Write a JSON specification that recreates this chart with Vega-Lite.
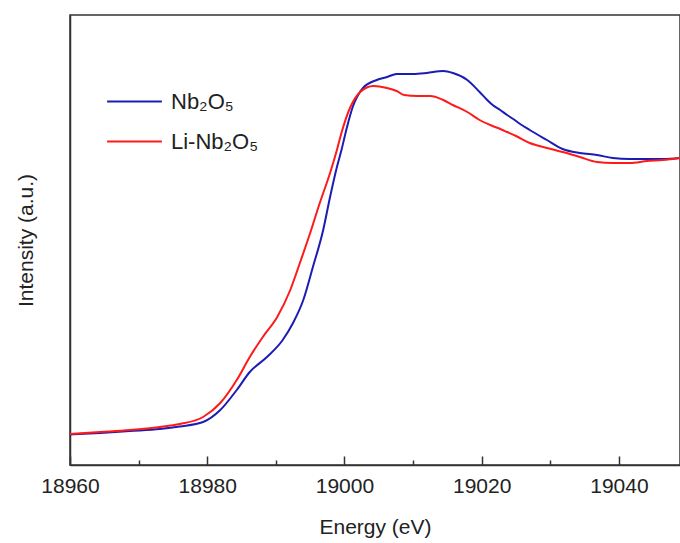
{
  "$schema": "https://vega.github.io/schema/vega-lite/v6.json",
  "width": 610,
  "height": 450,
  "autosize": "none",
  "padding": {"left": 70, "top": 15, "right": 0, "bottom": 78},
  "background": "white",
  "config": {
    "font": "Liberation Sans",
    "view": {"stroke": "#333", "strokeWidth": 1.5},
    "axis": {"grid": false, "domainColor": "#333", "domainWidth": 1.5, "tickColor": "#333", "tickWidth": 1.5, "labelColor": "#222", "titleColor": "#222", "labelFont": "Liberation Sans", "titleFont": "Liberation Sans", "titleFontWeight": "normal"}
  },
  "data": {
    "values": [
      {"E": 18960, "I": 30.5, "s": "Nb₂O₅"},
      {"E": 18964.4, "I": 32, "s": "Nb₂O₅"},
      {"E": 18968.7, "I": 34, "s": "Nb₂O₅"},
      {"E": 18973.1, "I": 36, "s": "Nb₂O₅"},
      {"E": 18976.0, "I": 38.5, "s": "Nb₂O₅"},
      {"E": 18979.4, "I": 43, "s": "Nb₂O₅"},
      {"E": 18981.9, "I": 55, "s": "Nb₂O₅"},
      {"E": 18984.3, "I": 75, "s": "Nb₂O₅"},
      {"E": 18986.2, "I": 93, "s": "Nb₂O₅"},
      {"E": 18988.7, "I": 108, "s": "Nb₂O₅"},
      {"E": 18991.0, "I": 125, "s": "Nb₂O₅"},
      {"E": 18992.5, "I": 142, "s": "Nb₂O₅"},
      {"E": 18994.0, "I": 165, "s": "Nb₂O₅"},
      {"E": 18995.4, "I": 198, "s": "Nb₂O₅"},
      {"E": 18996.9, "I": 235, "s": "Nb₂O₅"},
      {"E": 18997.9, "I": 268, "s": "Nb₂O₅"},
      {"E": 18998.9, "I": 298, "s": "Nb₂O₅"},
      {"E": 18999.6, "I": 316, "s": "Nb₂O₅"},
      {"E": 19000.3, "I": 336, "s": "Nb₂O₅"},
      {"E": 19001.2, "I": 358, "s": "Nb₂O₅"},
      {"E": 19002.7, "I": 377, "s": "Nb₂O₅"},
      {"E": 19004.7, "I": 385, "s": "Nb₂O₅"},
      {"E": 19006.2, "I": 388, "s": "Nb₂O₅"},
      {"E": 19007.6, "I": 391, "s": "Nb₂O₅"},
      {"E": 19010.0, "I": 391, "s": "Nb₂O₅"},
      {"E": 19012.0, "I": 392, "s": "Nb₂O₅"},
      {"E": 19014.4, "I": 394, "s": "Nb₂O₅"},
      {"E": 19015.8, "I": 392, "s": "Nb₂O₅"},
      {"E": 19017.9, "I": 385, "s": "Nb₂O₅"},
      {"E": 19019.7, "I": 373, "s": "Nb₂O₅"},
      {"E": 19020.8, "I": 365, "s": "Nb₂O₅"},
      {"E": 19021.6, "I": 360, "s": "Nb₂O₅"},
      {"E": 19022.7, "I": 355, "s": "Nb₂O₅"},
      {"E": 19023.7, "I": 350, "s": "Nb₂O₅"},
      {"E": 19024.6, "I": 346, "s": "Nb₂O₅"},
      {"E": 19025.6, "I": 341, "s": "Nb₂O₅"},
      {"E": 19027.0, "I": 335, "s": "Nb₂O₅"},
      {"E": 19029.5, "I": 325, "s": "Nb₂O₅"},
      {"E": 19031.8, "I": 316, "s": "Nb₂O₅"},
      {"E": 19034.3, "I": 312, "s": "Nb₂O₅"},
      {"E": 19036.8, "I": 310, "s": "Nb₂O₅"},
      {"E": 19039.1, "I": 307, "s": "Nb₂O₅"},
      {"E": 19041.6, "I": 306, "s": "Nb₂O₅"},
      {"E": 19044.1, "I": 306, "s": "Nb₂O₅"},
      {"E": 19046.4, "I": 306, "s": "Nb₂O₅"},
      {"E": 19048.9, "I": 307, "s": "Nb₂O₅"},
      {"E": 18960, "I": 31, "s": "Li-Nb₂O₅"},
      {"E": 18964.4, "I": 33, "s": "Li-Nb₂O₅"},
      {"E": 18968.7, "I": 35, "s": "Li-Nb₂O₅"},
      {"E": 18973.1, "I": 38, "s": "Li-Nb₂O₅"},
      {"E": 18976.0, "I": 41, "s": "Li-Nb₂O₅"},
      {"E": 18979.4, "I": 48, "s": "Li-Nb₂O₅"},
      {"E": 18981.9, "I": 62, "s": "Li-Nb₂O₅"},
      {"E": 18984.3, "I": 85, "s": "Li-Nb₂O₅"},
      {"E": 18986.2, "I": 108, "s": "Li-Nb₂O₅"},
      {"E": 18988.1, "I": 128, "s": "Li-Nb₂O₅"},
      {"E": 18990.2, "I": 148, "s": "Li-Nb₂O₅"},
      {"E": 18992.1, "I": 175, "s": "Li-Nb₂O₅"},
      {"E": 18993.5, "I": 202, "s": "Li-Nb₂O₅"},
      {"E": 18995.0, "I": 232, "s": "Li-Nb₂O₅"},
      {"E": 18996.4, "I": 262, "s": "Li-Nb₂O₅"},
      {"E": 18997.9, "I": 292, "s": "Li-Nb₂O₅"},
      {"E": 18998.9, "I": 315, "s": "Li-Nb₂O₅"},
      {"E": 18999.6, "I": 333, "s": "Li-Nb₂O₅"},
      {"E": 19000.8, "I": 357, "s": "Li-Nb₂O₅"},
      {"E": 19002.3, "I": 373, "s": "Li-Nb₂O₅"},
      {"E": 19004.2, "I": 379, "s": "Li-Nb₂O₅"},
      {"E": 19006.2, "I": 377, "s": "Li-Nb₂O₅"},
      {"E": 19007.6, "I": 374, "s": "Li-Nb₂O₅"},
      {"E": 19008.7, "I": 370, "s": "Li-Nb₂O₅"},
      {"E": 19010.6, "I": 369, "s": "Li-Nb₂O₅"},
      {"E": 19012.5, "I": 369, "s": "Li-Nb₂O₅"},
      {"E": 19014.4, "I": 365, "s": "Li-Nb₂O₅"},
      {"E": 19015.8, "I": 360, "s": "Li-Nb₂O₅"},
      {"E": 19017.9, "I": 353, "s": "Li-Nb₂O₅"},
      {"E": 19019.7, "I": 345, "s": "Li-Nb₂O₅"},
      {"E": 19021.6, "I": 339, "s": "Li-Nb₂O₅"},
      {"E": 19022.7, "I": 336, "s": "Li-Nb₂O₅"},
      {"E": 19023.7, "I": 333, "s": "Li-Nb₂O₅"},
      {"E": 19025.0, "I": 329, "s": "Li-Nb₂O₅"},
      {"E": 19027.0, "I": 322, "s": "Li-Nb₂O₅"},
      {"E": 19029.5, "I": 317, "s": "Li-Nb₂O₅"},
      {"E": 19031.8, "I": 313, "s": "Li-Nb₂O₅"},
      {"E": 19034.3, "I": 308, "s": "Li-Nb₂O₅"},
      {"E": 19036.8, "I": 303, "s": "Li-Nb₂O₅"},
      {"E": 19039.1, "I": 302, "s": "Li-Nb₂O₅"},
      {"E": 19041.6, "I": 302, "s": "Li-Nb₂O₅"},
      {"E": 19044.1, "I": 304, "s": "Li-Nb₂O₅"},
      {"E": 19046.4, "I": 305, "s": "Li-Nb₂O₅"},
      {"E": 19048.9, "I": 307, "s": "Li-Nb₂O₅"}
    ]
  },
  "mark": {"type": "line", "strokeWidth": 2, "interpolate": "monotone", "clip": true},
  "encoding": {
    "x": {
      "field": "E", "type": "quantitative",
      "scale": {"domain": [18960, 19048.9], "nice": false, "zero": false},
      "axis": {
        "title": "Energy (eV)", "titleFontSize": 21, "titlePadding": 16,
        "labelFontSize": 21, "labelPadding": 19,
        "values": [18960, 18970, 18980, 18990, 19000, 19010, 19020, 19030, 19040],
        "labelExpr": "datum.value % 20 === 0 ? datum.value : ''",
        "format": "d",
        "tickSize": {"condition": {"test": "datum.value % 20 === 0", "value": -9}, "value": -5},
        "labelFlush": false, "labelOverlap": false
      }
    },
    "y": {
      "field": "I", "type": "quantitative",
      "scale": {"domain": [0, 450], "nice": false},
      "axis": {"title": "Intensity (a.u.)", "titleFontSize": 21, "labels": false, "ticks": false, "titlePadding": 34}
    },
    "color": {
      "field": "s", "type": "nominal", "sort": ["Nb₂O₅", "Li-Nb₂O₅"],
      "scale": {"domain": ["Nb₂O₅", "Li-Nb₂O₅"], "range": ["#1c1cb4", "#ff1a1a"]},
      "legend": {
        "title": null, "orient": "none", "legendX": 36, "legendY": 58,
        "symbolType": "stroke", "symbolSize": 3000, "symbolStrokeWidth": 2,
        "labelFontSize": 22, "labelColor": "#222", "labelFont": "Liberation Sans",
        "rowPadding": 0, "labelOffset": 8
      }
    }
  }
}
